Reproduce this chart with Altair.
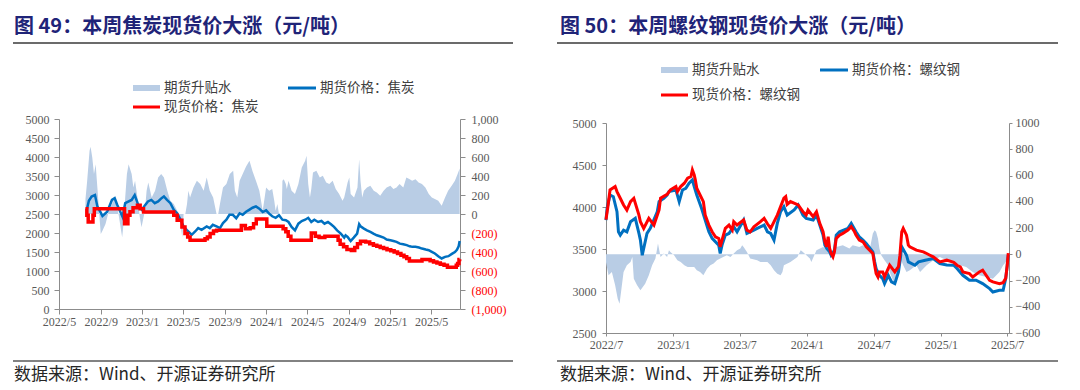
import altair as alt
import pandas as pd

# ---------------- data: coke (left panel) ----------------
coke_fut_dates = ["2022-07-22","2022-07-28","2022-08-05","2022-08-15","2022-08-22","2022-09-06","2022-09-20","2022-10-04","2022-10-12","2022-10-19",
    "2022-11-04","2022-11-12","2022-12-01","2022-12-10","2022-12-22","2022-12-31","2023-01-10","2023-01-18","2023-01-28","2023-02-07",
    "2023-02-17","2023-02-27","2023-03-06","2023-03-15","2023-03-25","2023-04-04","2023-04-14","2023-04-24","2023-05-03","2023-05-12",
    "2023-05-22","2023-05-27","2023-06-06","2023-06-15","2023-06-25","2023-07-10","2023-07-19","2023-07-28","2023-08-08","2023-08-18",
    "2023-08-27","2023-09-06","2023-09-15","2023-09-25","2023-10-05","2023-10-15","2023-10-24","2023-11-03","2023-11-12","2023-11-22",
    "2023-12-02","2023-12-12","2023-12-22","2024-01-01","2024-01-10","2024-01-19","2024-01-29","2024-02-08","2024-02-18","2024-02-28",
    "2024-03-07","2024-03-16","2024-03-26","2024-04-05","2024-04-15","2024-04-25","2024-05-04","2024-05-13","2024-05-22","2024-06-02",
    "2024-06-12","2024-06-21","2024-07-01","2024-07-10","2024-07-19","2024-07-28","2024-08-08","2024-08-18","2024-08-22","2024-08-28",
    "2024-09-06","2024-09-15","2024-09-25","2024-10-01","2024-10-05","2024-10-15","2024-10-24","2024-11-03","2024-11-12","2024-11-22",
    "2024-12-01","2024-12-12","2024-12-21","2025-01-01","2025-01-10","2025-01-19","2025-01-29","2025-02-08","2025-02-18","2025-02-27",
    "2025-03-07","2025-03-16","2025-03-26","2025-04-04","2025-04-15","2025-04-24","2025-05-03","2025-05-12","2025-05-22","2025-06-01",
    "2025-06-11","2025-06-21","2025-07-01","2025-07-10","2025-07-16","2025-07-21","2025-07-24"]
coke_fut_values = [2620,2850,2960,3000,2700,2450,2560,2870,2915,2750,
    2430,2785,2870,3000,2700,2610,2740,2830,2870,2785,
    2830,2916,2960,2870,2785,2610,2520,2350,2170,2084,
    1997,1953,2040,2128,2084,2172,2128,2215,2172,2128,
    2260,2350,2480,2480,2390,2520,2480,2560,2610,2665,
    2700,2640,2552,2596,2508,2440,2400,2465,2350,2334,
    2290,2160,2070,2246,2316,2350,2400,2290,2350,2290,
    2316,2246,2290,2230,2160,2070,1985,1880,1940,1897,
    1790,1880,1985,2230,2176,2115,2070,2030,1985,1940,
    1915,1880,1827,1810,1790,1765,1720,1705,1680,1650,
    1635,1635,1617,1590,1565,1547,1503,1460,1390,1330,
    1372,1390,1450,1500,1560,1650,1790]

coke_spot_dates = ["2022-07-18","2022-07-22","2022-07-26","2022-08-09","2022-08-13","2022-11-10","2022-11-20","2022-11-26","2022-12-05","2022-12-18",
    "2022-12-26","2023-01-05","2023-04-04","2023-04-14","2023-04-28","2023-05-07","2023-05-15","2023-05-22","2023-07-05","2023-07-12",
    "2023-07-20","2023-07-30","2023-08-08","2023-10-20","2023-11-01","2023-11-15","2023-11-25","2023-12-03","2024-01-03","2024-02-20",
    "2024-02-28","2024-03-06","2024-03-14","2024-05-13","2024-05-25","2024-06-05","2024-06-22","2024-07-31","2024-08-06","2024-08-16",
    "2024-08-26","2024-09-08","2024-09-18","2024-09-26","2024-10-05","2024-10-20","2024-11-01","2024-11-12","2024-11-22","2024-12-02",
    "2024-12-12","2024-12-22","2025-01-02","2025-01-12","2025-01-22","2025-02-01","2025-02-10","2025-02-18","2025-02-26","2025-04-04",
    "2025-04-28","2025-05-08","2025-05-18","2025-05-28","2025-06-08","2025-06-18","2025-07-14","2025-07-18","2025-07-22","2025-07-24"]
coke_spot_values = [2640,2465,2290,2465,2640,2246,2465,2560,2665,2727,
    2640,2552,2465,2334,2160,1985,1897,1810,1850,1897,
    1985,2050,2070,2200,2115,2140,2246,2370,2180,2115,
    2030,1915,1810,2000,1915,1880,1915,1810,1705,1635,
    1565,1540,1617,1720,1780,1760,1720,1680,1650,1620,
    1590,1560,1530,1500,1460,1415,1372,1330,1260,1300,
    1270,1240,1210,1180,1150,1100,1150,1200,1300,1310]

coke_basis_dates = ["2022-07-18","2022-07-23","2022-07-30","2022-08-02","2022-08-07","2022-08-12","2022-08-17","2022-08-22","2022-08-27","2022-09-01",
    "2022-09-06","2022-09-15","2022-09-25","2022-10-04","2022-10-14","2022-10-24","2022-11-03","2022-11-07","2022-11-12","2022-11-17",
    "2022-11-22","2022-12-01","2022-12-06","2022-12-11","2022-12-18","2022-12-25","2022-12-30","2023-01-09","2023-01-14","2023-01-19",
    "2023-01-29","2023-02-08","2023-02-17","2023-02-26","2023-03-06","2023-03-16","2023-03-25","2023-04-04","2023-04-14","2023-04-24",
    "2023-04-29","2023-05-03","2023-05-08","2023-05-13","2023-05-17","2023-05-22","2023-06-01","2023-06-11","2023-06-21","2023-07-01",
    "2023-07-10","2023-07-19","2023-07-29","2023-08-08","2023-08-13","2023-08-18","2023-08-27","2023-09-06","2023-09-16","2023-09-26",
    "2023-10-01","2023-10-08","2023-10-15","2023-10-24","2023-11-03","2023-11-13","2023-11-22","2023-12-02","2023-12-12","2023-12-22",
    "2024-01-01","2024-01-10","2024-01-19","2024-01-25","2024-01-29","2024-02-03","2024-02-08","2024-02-16","2024-02-18","2024-02-22",
    "2024-02-28","2024-03-02","2024-03-07","2024-03-16","2024-03-26","2024-04-05","2024-04-15","2024-04-25","2024-04-29","2024-05-04",
    "2024-05-09","2024-05-13","2024-05-18","2024-05-28","2024-06-07","2024-06-16","2024-06-26","2024-07-05","2024-07-15","2024-07-24",
    "2024-08-03","2024-08-13","2024-08-18","2024-08-28","2024-09-02","2024-09-06","2024-09-16","2024-09-26","2024-10-01","2024-10-05",
    "2024-10-10","2024-10-15","2024-10-24","2024-11-03","2024-11-13","2024-11-22","2024-12-02","2024-12-12","2024-12-21","2025-01-01",
    "2025-01-10","2025-01-19","2025-01-28","2025-02-08","2025-02-17","2025-02-27","2025-03-06","2025-03-16","2025-03-25","2025-04-04",
    "2025-04-14","2025-04-24","2025-05-03","2025-05-12","2025-05-22","2025-06-01","2025-06-11","2025-06-20","2025-07-01","2025-07-10",
    "2025-07-18","2025-07-24"]
coke_basis_values = [158,350,665,707,595,420,525,280,35,-210,
    -175,-105,35,105,175,-17,-245,-105,175,420,
    525,420,280,350,175,-35,-140,35,245,332,
    175,245,385,420,385,245,140,105,35,-105,
    -245,0,0,105,245,175,280,350,315,245,
    385,245,175,0,0,105,280,315,420,455,
    245,175,350,420,500,560,450,350,245,35,
    280,245,262,140,35,105,0,0,350,367,
    315,262,350,245,210,315,490,560,612,315,
    175,262,437,455,385,402,332,315,350,262,
    210,140,175,332,385,210,175,280,577,350,
    175,245,280,297,245,227,192,245,280,297,
    262,280,315,280,385,367,350,367,332,315,
    280,210,175,157,140,87,175,245,300,350,
    420,480]

# ---------------- data: rebar (right panel) ----------------
rebar_fut_dates = ["2022-07-01","2022-07-04","2022-07-12","2022-07-21","2022-07-31","2022-08-04","2022-08-09","2022-08-18","2022-08-27","2022-09-06",
    "2022-09-19","2022-09-29","2022-10-03","2022-10-08","2022-10-12","2022-10-21","2022-10-30","2022-11-18","2022-11-23","2022-12-06",
    "2022-12-15","2022-12-20","2023-01-08","2023-01-17","2023-01-26","2023-02-04","2023-02-13","2023-02-22","2023-02-27","2023-03-06",
    "2023-03-19","2023-03-29","2023-04-08","2023-04-17","2023-05-05","2023-05-09","2023-05-14","2023-05-23","2023-06-02","2023-06-15",
    "2023-06-24","2023-07-12","2023-07-21","2023-08-09","2023-08-18","2023-09-06","2023-09-15","2023-09-24","2023-10-03","2023-10-12",
    "2023-10-21","2023-10-30","2023-11-08","2023-11-27","2023-12-08","2023-12-21","2023-12-30","2024-01-18","2024-01-27","2024-02-05",
    "2024-02-14","2024-02-19","2024-02-24","2024-03-03","2024-03-07","2024-03-16","2024-03-21","2024-03-30","2024-04-22","2024-05-01",
    "2024-05-14","2024-05-23","2024-06-02","2024-06-11","2024-06-29","2024-07-04","2024-07-08","2024-07-17","2024-07-26","2024-07-31",
    "2024-08-10","2024-08-19","2024-08-28","2024-09-07","2024-09-11","2024-09-16","2024-09-29","2024-10-04","2024-10-22","2024-11-01",
    "2024-11-19","2024-12-11","2024-12-29","2025-01-17","2025-02-05","2025-02-14","2025-03-02","2025-03-20","2025-04-07","2025-04-25",
    "2025-05-14","2025-05-23","2025-06-10","2025-06-20","2025-06-27","2025-07-01","2025-07-04"]
rebar_fut_values = [3845,3984,4143,4123,3944,3705,3665,3725,3705,3825,
    3865,3685,3606,3426,3506,3685,3745,3944,4064,4104,
    4143,4183,4203,4064,4203,4223,4283,4323,4243,4143,
    3984,3845,3705,3626,3546,3446,3546,3665,3685,3765,
    3705,3845,3685,3725,3745,3785,3705,3685,3606,3805,
    3944,4004,3904,3964,4024,3904,3865,3845,3904,3785,
    3665,3546,3506,3466,3426,3480,3665,3705,3745,3805,
    3705,3646,3606,3566,3466,3347,3267,3187,3147,3088,
    3187,3108,3088,3227,3347,3526,3426,3347,3307,3347,
    3367,3387,3327,3310,3307,3267,3187,3128,3128,3088,
    3028,2988,3008,3008,3150,3300,3430]

rebar_spot_dates = ["2022-07-01","2022-07-06","2022-07-12","2022-07-26","2022-07-31","2022-08-09","2022-08-18","2022-08-27","2022-09-06","2022-09-15",
    "2022-09-29","2022-10-03","2022-10-12","2022-10-26","2022-11-09","2022-11-23","2022-11-27","2022-12-15","2022-12-24","2023-01-08",
    "2023-01-12","2023-01-21","2023-01-31","2023-02-09","2023-02-18","2023-02-22","2023-02-27","2023-03-02","2023-03-06","2023-03-15",
    "2023-03-24","2023-03-29","2023-04-08","2023-04-17","2023-04-26","2023-05-05","2023-05-09","2023-05-14","2023-05-23","2023-06-02",
    "2023-06-11","2023-06-15","2023-06-24","2023-07-12","2023-07-21","2023-07-30","2023-08-09","2023-08-27","2023-09-06","2023-09-15",
    "2023-09-24","2023-10-12","2023-10-21","2023-10-30","2023-11-04","2023-11-08","2023-11-17","2023-12-08","2023-12-21","2023-12-30",
    "2024-01-04","2024-01-18","2024-01-27","2024-02-05","2024-02-14","2024-02-19","2024-02-24","2024-02-28","2024-03-03","2024-03-07",
    "2024-03-12","2024-03-16","2024-03-21","2024-03-30","2024-04-08","2024-04-22","2024-05-01","2024-05-10","2024-05-14","2024-05-23",
    "2024-06-02","2024-06-11","2024-06-29","2024-07-04","2024-07-08","2024-07-13","2024-07-17","2024-07-26","2024-07-31","2024-08-14",
    "2024-08-28","2024-09-07","2024-09-11","2024-09-16","2024-09-20","2024-09-29","2024-10-04","2024-10-08","2024-10-26","2024-11-14",
    "2024-11-23","2024-12-02","2024-12-11","2024-12-29","2025-01-17","2025-02-05","2025-02-14","2025-02-23","2025-03-02","2025-03-20",
    "2025-03-29","2025-04-16","2025-04-25","2025-05-14","2025-05-23","2025-06-10","2025-06-20","2025-06-27","2025-07-01","2025-07-04"]
rebar_spot_values = [3850,4000,4203,4243,4183,4104,4024,3964,4064,4104,
    3904,3825,3745,3865,3785,3964,4104,4151,4203,4243,
    4183,4243,4283,4343,4363,4442,4383,4323,4223,4143,
    4064,3904,3785,3705,3646,3626,3526,3606,3745,3785,
    3725,3825,3785,3845,3725,3705,3765,3825,3865,3800,
    3745,3904,4004,4104,4123,4030,4064,4024,3944,3904,
    3964,3885,3944,3805,3705,3586,3526,3646,3506,3446,
    3406,3466,3626,3665,3685,3725,3765,3705,3665,3606,
    3586,3526,3446,3307,3207,3167,3227,3227,3167,3307,
    3227,3290,3426,3705,3745,3665,3546,3526,3486,3466,
    3446,3426,3406,3347,3367,3340,3307,3287,3227,3207,
    3167,3227,3247,3128,3108,3088,3100,3150,3300,3450]

rebar_basis_dates = ["2022-07-01","2022-07-08","2022-07-17","2022-07-26","2022-08-02","2022-08-07","2022-08-11","2022-08-18","2022-08-27","2022-09-06",
    "2022-09-11","2022-09-15","2022-09-24","2022-10-03","2022-10-16","2022-10-26","2022-11-04","2022-11-13","2022-11-20","2022-11-27",
    "2022-12-06","2022-12-15","2022-12-20","2022-12-24","2023-01-03","2023-01-12","2023-01-21","2023-01-31","2023-02-09","2023-02-27",
    "2023-03-06","2023-03-15","2023-03-24","2023-04-03","2023-04-12","2023-04-21","2023-04-30","2023-05-09","2023-05-27","2023-06-06",
    "2023-06-15","2023-06-24","2023-07-03","2023-07-08","2023-07-12","2023-07-21","2023-07-30","2023-08-18","2023-08-27","2023-09-15",
    "2023-09-24","2023-10-03","2023-10-12","2023-10-21","2023-10-26","2023-10-30","2023-11-17","2023-12-06","2023-12-15","2023-12-21",
    "2024-01-09","2024-01-13","2024-01-27","2024-02-14","2024-03-03","2024-03-21","2024-04-08","2024-04-26","2024-05-05","2024-05-23",
    "2024-06-02","2024-06-11","2024-06-20","2024-06-29","2024-07-04","2024-07-08","2024-07-13","2024-07-17","2024-07-22","2024-07-31",
    "2024-08-10","2024-08-14","2024-08-23","2024-08-28","2024-09-02","2024-09-07","2024-09-11","2024-09-20","2024-09-29","2024-10-08",
    "2024-10-26","2024-11-05","2024-11-23","2024-12-11","2024-12-29","2025-01-17","2025-02-05","2025-02-23","2025-03-11","2025-03-29",
    "2025-04-16","2025-05-05","2025-05-23","2025-06-10","2025-06-20","2025-06-27","2025-07-04"]
rebar_basis_values = [-60,-160,-135,-237,-339,-377,-290,-135,-84,-59,
    -20,-186,-237,-275,-224,-160,-84,-33,82,-20,
    5,-20,30,18,-8,-46,-59,-84,-97,-97,
    -122,-135,-160,-110,-84,-71,-46,-33,-8,-20,
    5,30,43,69,56,18,-33,-46,-59,-59,
    -84,-122,-148,-160,-135,-84,-59,-20,30,18,
    -33,-59,30,56,18,56,69,43,69,56,
    69,43,30,158,183,170,120,43,-8,-46,
    -84,-135,-199,-237,-160,-84,-20,-84,-135,-122,
    -84,-135,-84,-46,-20,-46,-59,-84,-97,-135,
    -160,-173,-186,-135,-84,-60,-20]

# ---------------- text ----------------
titles = ["图 49：本周焦炭现货价大涨（元/吨）", "图 50：本周螺纹钢现货价大涨（元/吨）"]
legend_left = ["期货升贴水", "期货价格：焦炭", "现货价格：焦炭"]
legend_right = ["期货升贴水", "期货价格：螺纹钢", "现货价格：螺纹钢"]
source_text = "数据来源：Wind、开源证券研究所"
left_x_ticks = [(2022, 5), (2022, 9), (2023, 1), (2023, 5), (2023, 9), (2024, 1), (2024, 5), (2024, 9), (2025, 1), (2025, 5)]
right_x_ticks = [(2022, 7), (2023, 1), (2023, 7), (2024, 1), (2024, 7), (2025, 1), (2025, 7)]

AREA = "#B9CDE5"
BLUE = "#0070C0"
RED = "#FF0000"
AXIS = "#8C8C8C"
LABEL = "#595959"
NUM_FONT = "Liberation Serif"
CJK = "Noto Sans CJK SC"
TITLE_COLOR = "#1F2478"


def dt(y, m, d=1):
    return alt.DateTime(year=y, month=m, date=d, utc=True)


def text_layer(txt, x, y, size, color, weight="normal"):
    return alt.Chart(pd.DataFrame({"t": [txt]})).mark_text(
        align="left", baseline="middle", fontSize=size, color=color, font=CJK, fontWeight=weight
    ).encode(text="t:N", x=alt.value(x), y=alt.value(y))


def hline(x1, x2, y, color, width):
    return alt.Chart(pd.DataFrame({"t": [0]})).mark_rule(color=color, strokeWidth=width).encode(
        x=alt.value(x1), x2=alt.value(x2), y=alt.value(y))


def swatch(x1, x2, y1, y2, color):
    return alt.Chart(pd.DataFrame({"t": [0]})).mark_rect(color=color).encode(
        x=alt.value(x1), x2=alt.value(x2), y=alt.value(y1), y2=alt.value(y2))


def panel(fut_d, fut_v, spot_d, spot_v, bas_d, bas_v, x_dom, x_ticks, yl_dom, yl_step, yr_dom, yr_step,
          right_expr, right_color, w, h, y_top, title, legend, spot_interp, lw_fut, lw_spot, off, tick_x):
    xenc = alt.X("date:T", scale=alt.Scale(type="utc", domain=x_dom, nice=False),
                 axis=alt.Axis(values=[dt(y, m) for y, m in x_ticks], format="%Y/%-m", title=None, grid=False,
                               labelFont=NUM_FONT, labelFontSize=12, labelColor=LABEL, domainColor=AXIS,
                               tickColor=AXIS, tickSize=tick_x, labelPadding=off["px"], labelFlush=False,
                               labelOverlap=False))
    df_f = pd.DataFrame({"date": fut_d, "v": fut_v})
    df_s = pd.DataFrame({"date": spot_d, "v": spot_v})
    df_b = pd.DataFrame({"date": bas_d, "v": bas_v})

    yl_axis = alt.Axis(orient="left", values=list(range(yl_dom[0], yl_dom[1] + 1, yl_step)), format="d",
                       title=None, grid=False, labelFont=NUM_FONT, labelFontSize=12, labelColor=LABEL,
                       domainColor=AXIS, tickColor=AXIS, tickSize=off["tl"], labelPadding=off["pl"])
    yr_axis = alt.Axis(orient="right", values=list(range(yr_dom[0], yr_dom[1] + 1, yr_step)),
                       labelExpr=right_expr, labelColor=right_color, labelOffset=off["ro"],
                       title=None, grid=False, labelFont=NUM_FONT, labelFontSize=12,
                       domainColor=AXIS, tickColor=AXIS, tickSize=off["tr"], labelPadding=off["pr"])

    area = alt.Chart(df_b).mark_area(color=AREA).encode(
        x=xenc, y=alt.Y("v:Q", scale=alt.Scale(domain=yr_dom, nice=False, zero=False, range=[h, y_top]), axis=yr_axis),
        y2=alt.datum(0))
    yl = alt.Y("v:Q", scale=alt.Scale(domain=yl_dom, nice=False, zero=False, range=[h, y_top]), axis=yl_axis)
    fut = alt.Chart(df_f).mark_line(color=BLUE, strokeWidth=lw_fut).encode(x=xenc, y=yl)
    spot = alt.Chart(df_s).mark_line(color=RED, strokeWidth=lw_spot, interpolate=spot_interp).encode(x=xenc, y=yl)
    lines = alt.layer(fut, spot)

    deco = [
        text_layer(title, off["tx"], -92, 20, TITLE_COLOR, "bold"),
        hline(off["rx1"], off["rx2"], -76, "#3A3A3A", 1.5),
        swatch(off["lx"], off["lx"] + 27, off["l1y"] - 3, off["l1y"] + 3, AREA),
        text_layer(legend[0], off["lx"] + 31, off["l1y"], 13.5, "#404040"),
        hline(off["lx2"], off["lx2"] + 28, off["l1y"], BLUE, 3),
        text_layer(legend[1], off["lx2"] + 32, off["l1y"], 13.5, "#404040"),
        hline(off["lx"], off["lx"] + 27, off["l2y"], RED, 3),
        text_layer(legend[2], off["lx"] + 31, off["l2y"], 13.5, "#404040"),
        hline(off["rx1"], off["rx2"], 242, "#595959", 1.5),
        text_layer(source_text, off["tx"], 256, 17, "#262626"),
    ]
    return alt.layer(area, lines, *deco).resolve_scale(y="independent").properties(width=w, height=h)


left_expr = "datum.value < 0 ? '(' + format(-datum.value, ',') + ')' : format(datum.value, ',')"
left_color = {"condition": {"test": "datum.value < 0", "value": RED}, "value": LABEL}

# both panels share the same origin (top of the left plot, y=119 on the page)
left = panel(coke_fut_dates, coke_fut_values, coke_spot_dates, coke_spot_values, coke_basis_dates, coke_basis_values,
             [dt(2022, 5, 1), dt(2025, 7, 25)], left_x_ticks, (0, 5000), 500, (-1000, 1000), 200,
             left_expr, left_color, 401, 190, 0, titles[0], legend_left, "step-after", 2.5, 3.5,
             dict(tx=-45, rx1=-46, rx2=454, lx=74, lx2=229, l1y=-31, l2y=-12, tl=5, pl=5, tr=5, pr=6,
                  px=2, ro=0), 5)

right = panel(rebar_fut_dates, rebar_fut_values, rebar_spot_dates, rebar_spot_values, rebar_basis_dates, rebar_basis_values,
              [dt(2022, 7, 1), dt(2025, 7, 6)], right_x_ticks, (2500, 5000), 500, (-600, 1000), 200,
              "format(datum.value, 'd')", LABEL, 403, 214, 4, titles[1], legend_right, "linear", 3, 3,
              dict(tx=-46, rx1=-49, rx2=452, lx=55, lx2=214, l1y=-49, l2y=-24, tl=4, pl=6, tr=3, pr=3,
                   px=3, ro=-1), 3)

chart = alt.hconcat(left, right, spacing=42).configure_view(stroke=None).properties(
    padding={"left": 4, "top": 9, "right": 0, "bottom": 2}, background="white")

chart.save("out.html", embed_options={"renderer": "svg", "actions": False})
